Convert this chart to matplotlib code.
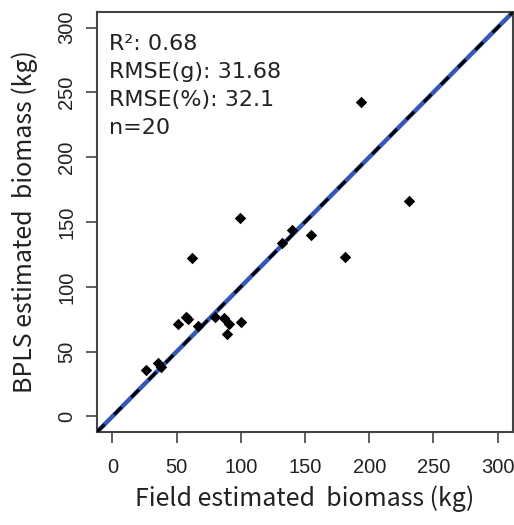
import numpy as np
import matplotlib
matplotlib.use("Agg")
import matplotlib.pyplot as plt

# field vs BPLS estimated biomass (kg)
field_kg = [26, 35.5, 37.5, 51, 57.5, 58.5, 62, 67, 80, 87, 89, 91, 100, 99,
            132, 139.5, 155, 181, 194, 231]
bpls_kg = [35.5, 41, 38.5, 71, 77, 75, 122.5, 70, 76.5, 76, 63.5, 71, 72.5, 153,
           134, 143.5, 140, 123, 242.5, 166.5]
ticks = [0, 50, 100, 150, 200, 250, 300]
stats_lines = ["R²: 0.68", "RMSE(g): 31.68", "RMSE(%): 32.1", "n=20"]
lim = (-12, 312)

label_font = ["Noto Sans CJK KR", "DejaVu Sans"]
text_font = ["DejaVu Sans"]
tick_font = "Liberation Sans"

fig = plt.figure(figsize=(5.14, 5.25), dpi=100)
ax = fig.add_axes([97 / 514, 1 - 432 / 525, 416 / 514, 420 / 525])

ax.plot(lim, lim, color="#3557b7", lw=3.2, zorder=2)
ax.plot(lim, lim, color="black", lw=2.2, dashes=(3.5, 4.5), zorder=3)
ax.scatter(field_kg, bpls_kg, marker="D", s=34, color="black", zorder=4, linewidths=0)

ax.set_xlim(lim)
ax.set_ylim(lim)
ax.set_xticks(ticks)
ax.set_yticks(ticks)
ax.set_xticklabels([str(t) for t in ticks], fontfamily=tick_font, fontsize=14.5, color="#222222")
ax.set_yticklabels([str(t) for t in ticks], fontfamily=tick_font, fontsize=14.5, color="#222222",
                   rotation=90, va="center")
ax.tick_params(axis="x", length=8, width=1.2, color="#444444", pad=11)
ax.tick_params(axis="y", length=8, width=1.2, color="#444444", pad=7)
for sp in ax.spines.values():
    sp.set_color("#444444")
    sp.set_linewidth(1.5)

ax.set_xlabel("Field estimated  biomass (kg)", fontfamily=label_font, fontsize=18,
              color="#222222", labelpad=6)
ax.set_ylabel("BPLS estimated  biomass (kg)", fontfamily=label_font, fontsize=18,
              color="#222222", labelpad=14)

for i, line in enumerate(stats_lines):
    ax.text(0.03, 0.925 - i * 0.067, line, transform=ax.transAxes, fontfamily=text_font,
            fontsize=16, color="#222222", va="center", ha="left")

fig.savefig("out.png", dpi=100)
